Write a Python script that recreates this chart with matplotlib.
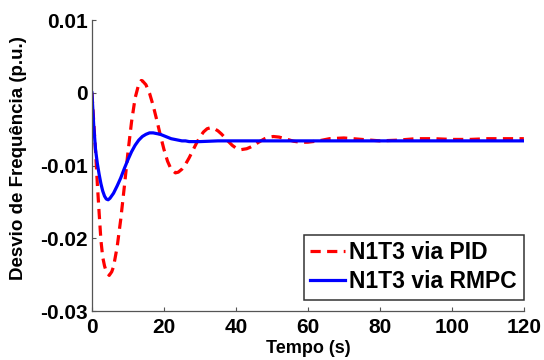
import matplotlib
matplotlib.use("Agg")
import matplotlib.pyplot as plt

plt.rcParams['font.family'] = ['Liberation Sans', 'DejaVu Sans']
plt.rcParams['font.weight'] = 'bold'

# Frequency deviation of N1T3 under PID control
t_pid = [0, 0.5, 1, 1.5, 2, 2.5, 3, 3.5, 4, 4.8, 5.5, 6, 7, 8, 9, 10, 11, 12, 13, 13.7,
         14, 15, 16, 17, 18, 19, 20, 21, 22, 23.2, 24, 25, 26, 27, 28, 29, 30, 31, 32,
         32.9, 34, 35, 36, 37, 38, 39, 40, 41.5, 43, 44, 45, 46, 47, 48, 49, 50.4, 52,
         54, 56, 58, 60, 63, 66, 70, 75, 80, 85, 90, 95, 100, 105, 110, 115, 120]
f_pid = [0, -0.004, -0.008, -0.0125, -0.0165, -0.0203, -0.0226, -0.0238, -0.0246, -0.0251,
         -0.0246, -0.0239, -0.0212, -0.0174, -0.0129, -0.0082, -0.0040, -0.0007, 0.0012, 0.0017,
         0.00167, 0.00112, -0.00005, -0.00172, -0.00371, -0.0058, -0.00776, -0.00939, -0.01051,
         -0.0110, -0.0109, -0.01049, -0.00981, -0.00894, -0.00795, -0.00696, -0.00607, -0.00537,
         -0.00493, -0.0048, -0.00492, -0.00522, -0.00566, -0.00619, -0.00673, -0.00722, -0.00758,
         -0.0078, -0.00768, -0.00747, -0.0072, -0.00688, -0.00658, -0.0063, -0.00611, -0.0060,
         -0.00608, -0.00635, -0.00665, -0.0068, -0.00678, -0.0066, -0.0063, -0.0062, -0.0064,
         -0.0066, -0.0065, -0.0063, -0.0063, -0.0064, -0.0064, -0.0063, -0.0063, -0.0063]

# Frequency deviation of N1T3 under RMPC control
t_rmpc = [0, 0.5, 1, 1.5, 2, 2.5, 3, 3.5, 4, 4.5, 5, 6, 7, 8, 9, 10, 11, 12, 13, 14, 15,
          16, 17, 18, 19, 20, 21, 22, 23, 24, 25, 26, 27, 28, 30, 35, 40, 50, 60, 80, 100, 120]
f_rmpc = [0, -0.0045, -0.0078, -0.0097, -0.0112, -0.0125, -0.0135, -0.0142, -0.0146, -0.0147,
          -0.0145, -0.0138, -0.0128, -0.0117, -0.0104, -0.0092, -0.0081, -0.0072, -0.0065,
          -0.0060, -0.0057, -0.0055, -0.0055, -0.0056, -0.0057, -0.0059, -0.0061, -0.0063,
          -0.0064, -0.0065, -0.0066, -0.0066, -0.0067, -0.0067, -0.0067, -0.0066, -0.0066,
          -0.0066, -0.0066, -0.0066, -0.0066, -0.0066]

x_ticks = [0, 20, 40, 60, 80, 100, 120]
y_ticks = [-0.03, -0.02, -0.01, 0, 0.01]
y_tick_labels = ['-0.03', '-0.02', '-0.01', '0', '0.01']

fig = plt.figure(figsize=(5.44, 3.6), dpi=100)
ax = fig.add_axes([0.169, 0.136, 0.794, 0.808])

ax.plot(t_pid, f_pid, color='#ff0000', lw=2.3, dashes=(3.2, 2.0), label='N1T3 via PID')
ax.plot(t_rmpc, f_rmpc, color='#0000ff', lw=2.3, label='N1T3 via RMPC')

ax.set_xlim(0, 120)
ax.set_ylim(-0.03, 0.01)
ax.set_xticks(x_ticks)
ax.set_yticks(y_ticks)
ax.set_yticklabels(y_tick_labels)
ax.tick_params(direction='in', length=3, width=0.8, labelsize=15, colors='#555555',
               labelcolor='black')
ax.tick_params(axis='x', pad=5)
ax.tick_params(axis='y', pad=3)
for lab in ax.get_xticklabels() + ax.get_yticklabels():
    lab.set_fontweight('bold')

ax.spines['top'].set_visible(False)
ax.spines['right'].set_visible(False)
for s in ('left', 'bottom'):
    ax.spines[s].set_color('#555555')
    ax.spines[s].set_linewidth(0.9)

ax.set_xlabel('Tempo (s)', fontsize=13, fontweight='bold')
ax.set_ylabel('Desvio de Frequência (p.u.)', fontsize=13.5, fontweight='bold')
ax.xaxis.set_label_coords(0.5, -0.100)
ax.yaxis.set_label_coords(-0.17, 0.527)
ax.xaxis.label.set_va('top')
ax.yaxis.label.set_va('center')

leg = ax.legend(loc='lower right', bbox_to_anchor=(1.0, 0.038), borderaxespad=0,
                frameon=True, fancybox=False, handlelength=1.5, handletextpad=0.2,
                borderpad=0.3, labelspacing=0.25, prop={'weight': 'bold', 'size': 16.5})
leg.get_frame().set_edgecolor('black')
leg.get_frame().set_linewidth(1.1)

fig.savefig('out.png', dpi=100)
